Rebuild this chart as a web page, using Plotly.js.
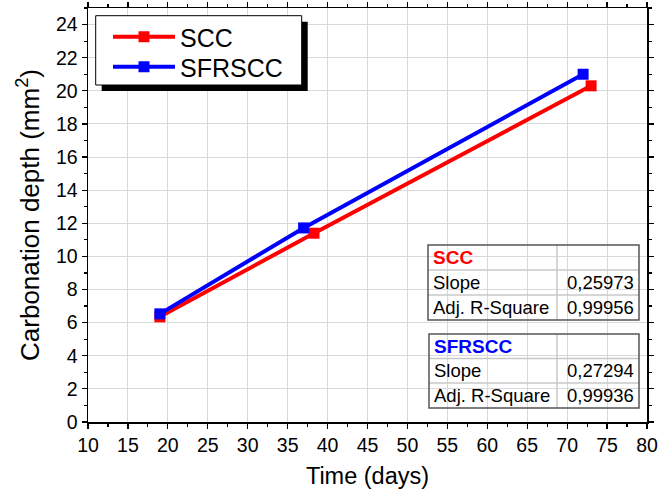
<!DOCTYPE html>
<html>
<head>
<meta charset="utf-8">
<script src="https://cdn.plot.ly/plotly-3.0.1.min.js"></script>
<style>
html,body{margin:0;padding:0;background:#fff;}
#chart{width:661px;height:495px;}
</style>
</head>
<body>
<div id="chart"></div>
<script>
// ---- data ----
const seriesNames = ["SCC", "SFRSCC"];
const sccDays = [19, 38.3, 73];
const sccDepth = [6.35, 11.4, 20.3];
const sfrDays = [19, 37, 72];
const sfrDepth = [6.53, 11.72, 21.0];
const seriesColors = ["#ff0000", "#0000ff"];
const fitRowLabels = ["Slope", "Adj. R-Square"];
const sccFit = ["0,25973", "0,99956"];
const sfrFit = ["0,27294", "0,99936"];

// ---- layout geometry (pixels) ----
const W = 661, H = 495;
const M = {l: 88, r: 14, t: 8, b: 73};
const PW = W - M.l - M.r, PH = H - M.t - M.b;
const px = x => (x - M.l) / PW;        // pixel -> paper x
const py = y => 1 - (y - M.t) / PH;    // pixel -> paper y
const FONT = "Arial, 'Liberation Sans', sans-serif";

const traces = [
  {x: sccDays, y: sccDepth, name: seriesNames[0], mode: "lines+markers", legend: "legend",
   line: {color: seriesColors[0], width: 4},
   marker: {symbol: "square", size: 11, color: seriesColors[0]}},
  {x: sfrDays, y: sfrDepth, name: seriesNames[1], mode: "lines+markers", legend: "legend2",
   line: {color: seriesColors[1], width: 4},
   marker: {symbol: "square", size: 11, color: seriesColors[1]}}
];

const shapes = [];
const annotations = [];

// legend shadow + box
shapes.push({type: "rect", xref: "paper", yref: "paper",
  x0: px(101.7), x1: px(307.7), y0: py(91), y1: py(21.7),
  fillcolor: "#000", line: {width: 0}, layer: "above"});
shapes.push({type: "rect", xref: "paper", yref: "paper",
  x0: px(95.7), x1: px(301.7), y0: py(85), y1: py(15.7),
  fillcolor: "#fff", line: {color: "#000", width: 1}, layer: "above"});

function table(x0, x1, xd, ys, title, titleColor, vals) {
  for (let i = 1; i < ys.length - 1; i++) {
    shapes.push({type: "line", xref: "paper", yref: "paper",
      x0: px(x0), x1: px(x1), y0: py(ys[i]), y1: py(ys[i]),
      line: {color: "#c8c8c8", width: 1.5}, layer: "above"});
  }
  shapes.push({type: "line", xref: "paper", yref: "paper",
    x0: px(xd), x1: px(xd), y0: py(ys[0]), y1: py(ys[ys.length - 1]),
    line: {color: "#c8c8c8", width: 1.5}, layer: "above"});
  shapes.push({type: "rect", xref: "paper", yref: "paper",
    x0: px(x0), x1: px(x1), y0: py(ys[ys.length - 1]), y1: py(ys[0]),
    line: {color: "#555555", width: 1.5}, fillcolor: "rgba(255,255,255,0.0)", layer: "above"});
  const mid = i => py((ys[i] + ys[i + 1]) / 2);
  annotations.push({xref: "paper", yref: "paper", x: px(x0 + 3), y: mid(0),
    xanchor: "left", yanchor: "middle", showarrow: false,
    text: "<b>" + title + "</b>", font: {family: FONT, size: 19, color: titleColor}});
  for (let r = 0; r < fitRowLabels.length; r++) {
    annotations.push({xref: "paper", yref: "paper", x: px(x0 + 3), y: mid(r + 1),
      xanchor: "left", yanchor: "middle", showarrow: false,
      text: fitRowLabels[r], font: {family: FONT, size: 18.5, color: "#000"}});
    annotations.push({xref: "paper", yref: "paper", x: px(x1 - 3), y: mid(r + 1),
      xanchor: "right", yanchor: "middle", showarrow: false,
      text: vals[r], font: {family: FONT, size: 18.5, color: "#000"}});
  }
}
table(428, 639, 557, [245, 270, 295, 320], seriesNames[0], seriesColors[0], sccFit);
table(429, 639, 557, [334, 358.5, 383, 408], seriesNames[1], seriesColors[1], sfrFit);

const axisCommon = {
  showline: true, linecolor: "#000", linewidth: 1.5, mirror: "ticks",
  ticks: "outside", ticklen: 5, tickwidth: 1.2, tickcolor: "#000",
  showgrid: true, gridcolor: "#d9d9d9", gridwidth: 1, zeroline: false,
  tickfont: {family: FONT, size: 19.5, color: "#000"}
};

const legendCommon = {xanchor: "left", yanchor: "middle",
  bgcolor: "rgba(0,0,0,0)", borderwidth: 0,
  font: {family: FONT, size: 25, color: "#000"}, itemwidth: 62};

const layout = {
  width: W, height: H,
  margin: M,
  paper_bgcolor: "#fff", plot_bgcolor: "#fff",
  showlegend: true,
  legend: Object.assign({}, legendCommon, {x: px(108), y: py(37)}),
  legend2: Object.assign({}, legendCommon, {x: px(108), y: py(67)}),
  xaxis: Object.assign({}, axisCommon, {
    range: [10, 80], dtick: 5, tick0: 10,
    minor: {dtick: 2.5, ticklen: 3, tickcolor: "#000", showgrid: false},
    title: {text: "Time (days)", font: {family: FONT, size: 23.5, color: "#000"}, standoff: 12}
  }),
  yaxis: Object.assign({}, axisCommon, {
    range: [0, 25], dtick: 2, tick0: 0,
    minor: {dtick: 1, ticklen: 3, tickcolor: "#000", showgrid: false},
    title: {text: "Carbonation depth (mm<sup>2</sup>)", font: {family: FONT, size: 26, color: "#000"}, standoff: 9}
  }),
  shapes: shapes,
  annotations: annotations
};

Plotly.newPlot("chart", traces, layout, {displayModeBar: false, staticPlot: true});
</script>
</body>
</html>
